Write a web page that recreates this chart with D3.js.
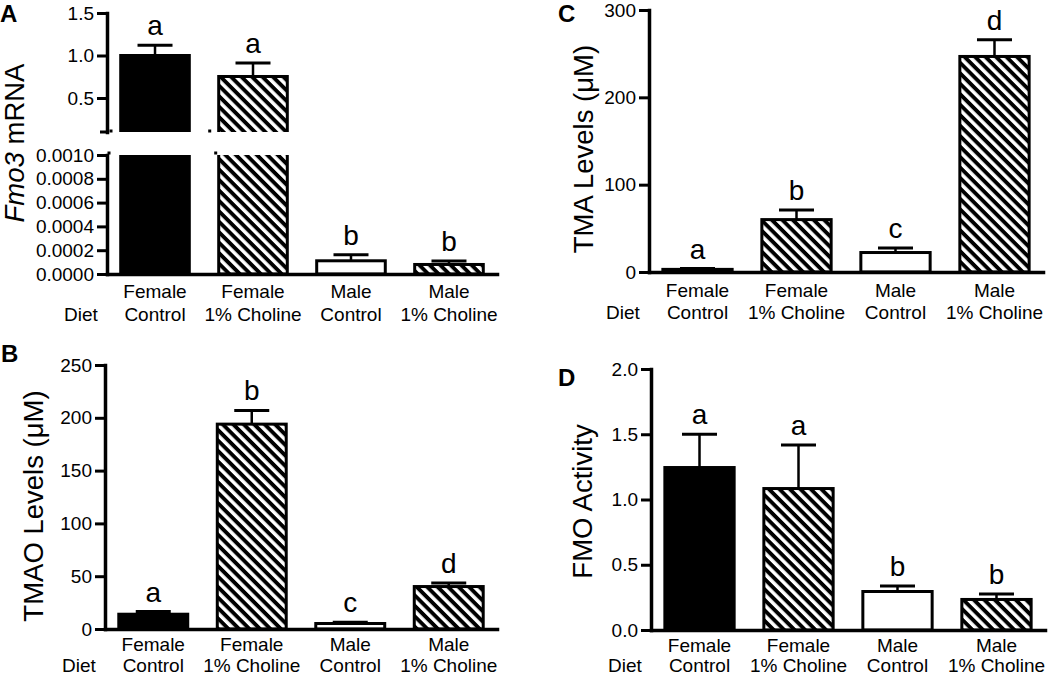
<!DOCTYPE html>
<html>
<head>
<meta charset="utf-8">
<script src="https://cdn.jsdelivr.net/npm/d3@7/dist/d3.min.js"></script>
<style>
  html, body { margin: 0; padding: 0; background: #fff; }
  svg { display: block; }
  text { font-family: "Liberation Sans", Arial, Helvetica, sans-serif; fill: #000; }
</style>
</head>
<body>
<svg id="chart" width="1050" height="677"></svg>
<script>
// ---------------- data ----------------
const categories = [["Female", "Control"], ["Female", "1% Choline"], ["Male", "Control"], ["Male", "1% Choline"]];
const fillTypes = ["solid", "hatch", "open", "hatch"];

const fmo3Mean = [1.0, 0.753, 0.000111, 0.00008];
const fmo3Sem = [0.12, 0.159, 0.000051, 0.00003];
const fmo3Letters = ["a", "a", "b", "b"];
const fmo3TopTicks = [0.5, 1.0, 1.5];
const fmo3BottomTicks = [0, 0.0002, 0.0004, 0.0006, 0.0008, 0.0010];

const tmaoMean = [14, 194, 5.2, 40.2];
const tmaoSem = [2.5, 13, 1.3, 3.3];
const tmaoLetters = ["a", "b", "c", "d"];
const tmaoTicks = [0, 50, 100, 150, 200, 250];

const tmaMean = [3, 60, 22.3, 246.8];
const tmaSem = [1, 11, 5.2, 19];
const tmaLetters = ["a", "b", "c", "d"];
const tmaTicks = [0, 100, 200, 300];

const fmoMean = [1.245, 1.084, 0.295, 0.234];
const fmoSem = [0.255, 0.334, 0.042, 0.042];
const fmoLetters = ["a", "a", "b", "b"];
const fmoTicks = [0, 0.5, 1.0, 1.5, 2.0];

// ---------------- setup ----------------
const svg = d3.select("#chart");
const defs = svg.append("defs");
const pat = defs.append("pattern")
  .attr("id", "hatch")
  .attr("patternUnits", "userSpaceOnUse")
  .attr("width", 7.4).attr("height", 7.4)
  .attr("patternTransform", "rotate(45)");
pat.append("rect").attr("width", 7.4).attr("height", 7.4).attr("fill", "#fff");
pat.append("rect").attr("width", 7.4).attr("height", 3.9).attr("fill", "#000");

const fillOf = t => t === "solid" ? "#000" : (t === "hatch" ? "url(#hatch)" : "#fff");

const TICK_FS = 19, CAT_FS = 19, LET_FS = 28, TITLE_FS = 27.5;
const AXIS_W = 3.5, BAR_W = 3;

function bandScale(x0, x1) {
  return d3.scaleBand().domain(d3.range(categories.length)).range([x0, x1])
    .paddingInner(0.3).paddingOuter(0.14);
}

function drawYAxis(g, scale, ticks, fmt, x) {
  const ax = g.append("g").attr("transform", `translate(${x},0)`)
    .call(d3.axisLeft(scale).tickValues(ticks).tickFormat(fmt).tickSize(10).tickSizeOuter(0).tickPadding(3));
  ax.select(".domain").attr("stroke", "#000").attr("stroke-width", AXIS_W).attr("stroke-linecap", "square");
  ax.selectAll(".tick line").attr("stroke", "#000").attr("stroke-width", 3);
  ax.selectAll(".tick text").style("font-size", TICK_FS + "px")
    .style("font-family", '"Liberation Sans", Arial, sans-serif').attr("fill", "#000");
  return ax;
}

function drawXAxis(g, x, y0) {
  const ax = g.append("g").attr("transform", `translate(0,${y0})`)
    .call(d3.axisBottom(x).tickSize(0).tickSizeOuter(0).tickFormat(""));
  ax.select(".domain").attr("stroke", "#000").attr("stroke-width", AXIS_W).attr("stroke-linecap", "square");
  ax.selectAll(".tick").remove();
}

function drawCategoryLabels(g, x, y0, axisX, d1, d2) {
  categories.forEach((c, i) => {
    const cx = x(i) + x.bandwidth() / 2;
    g.append("text").attr("x", cx).attr("y", y0 + d1).attr("text-anchor", "middle")
      .style("font-size", CAT_FS + "px").text(c[0]);
    g.append("text").attr("x", cx).attr("y", y0 + d2).attr("text-anchor", "middle")
      .style("font-size", CAT_FS + "px").text(c[1]);
  });
  g.append("text").attr("x", axisX - 43).attr("y", y0 + d2)
    .style("font-size", CAT_FS + "px").text("Diet");
}

function drawBars(g, x, y, means, sems, idx, clip) {
  const gg = g.append("g");
  if (clip) gg.attr("clip-path", `url(#${clip})`);
  const capW = 35;
  idx.forEach(i => {
    const bx = x(i), bw = x.bandwidth();
    const top = y(means[i]);
    const base = y.range()[0];
    const eTop = y(means[i] + sems[i]);
    const cx = bx + bw / 2;
    gg.append("line").attr("x1", cx).attr("x2", cx).attr("y1", top).attr("y2", eTop)
      .attr("stroke", "#000").attr("stroke-width", 2.5);
    gg.append("line").attr("x1", cx - capW / 2).attr("x2", cx + capW / 2).attr("y1", eTop).attr("y2", eTop)
      .attr("stroke", "#000").attr("stroke-width", 3);
    gg.append("rect").attr("x", bx).attr("y", Math.min(top, base)).attr("width", bw)
      .attr("height", Math.abs(base - top))
      .attr("fill", fillOf(fillTypes[i])).attr("stroke", "#000").attr("stroke-width", BAR_W);
  });
  return gg;
}

function drawLetters(g, x, yFn, letters, idx) {
  idx.forEach(i => {
    const cx = x(i) + x.bandwidth() / 2;
    g.append("text").attr("x", cx).attr("y", yFn(i) - 10).attr("text-anchor", "middle")
      .style("font-size", LET_FS + "px").text(letters[i]);
  });
}

function panelLetter(txt, px, py) {
  svg.append("text").attr("x", px).attr("y", py).style("font-size", "24px").style("font-weight", "bold").text(txt);
}

function yTitle(g, x, y, build) {
  const t = g.append("text").attr("transform", `translate(${x},${y}) rotate(-90)`)
    .attr("text-anchor", "middle").style("font-size", TITLE_FS + "px");
  build(t);
}

// ---------------- Panel A (broken axis) ----------------
(function () {
  const g = svg.append("g");
  const axisX = 107, xEnd = 497, y0 = 274;
  const x = bandScale(axisX, xEnd);
  const yBot = d3.scaleLinear().domain([0, 0.001]).range([y0, 155]);
  const yTop = d3.scaleLinear().domain([0.1, 1.5]).range([132, 13]);

  defs.append("clipPath").attr("id", "clipATop").append("rect")
    .attr("x", axisX).attr("y", 0).attr("width", xEnd - axisX).attr("height", yTop(0.1));
  defs.append("clipPath").attr("id", "clipABot").append("rect")
    .attr("x", axisX).attr("y", yBot(0.001)).attr("width", xEnd - axisX).attr("height", y0 - yBot(0.001) + 5);

  const big = d3.range(4).filter(i => fmo3Mean[i] > 0.001);

  const yTopExt = yTop.copy().domain([0, 1.5]).range([yTop(0), 13]);
  drawBars(g, x, yTopExt, fmo3Mean, fmo3Sem, big, "clipATop");
  drawBars(g, x, yBot, fmo3Mean, fmo3Sem, d3.range(4), "clipABot");

  drawYAxis(g, yTop, fmo3TopTicks, d3.format(".1f"), axisX);
  g.append("line").attr("x1", axisX - 7).attr("x2", axisX).attr("y1", yTop(0.1)).attr("y2", yTop(0.1))
    .attr("stroke", "#000").attr("stroke-width", 3);
  drawYAxis(g, yBot, fmo3BottomTicks, d3.format(".4f"), axisX);
  drawXAxis(g, x, y0);

  const mk = [[axisX + 4, yTop(0.1) - 1], [x(1) - 9, yTop(0.1) - 1], [axisX + 2, yBot(0.001) - 2], [x(1) - 3, yBot(0.001) - 2]];
  mk.forEach(p => g.append("rect").attr("x", p[0] - 1.5).attr("y", p[1] - 1.5).attr("width", 3).attr("height", 3).attr("fill", "#000"));

  drawLetters(g, x, i => (fmo3Mean[i] > 0.001 ? yTop : yBot)(fmo3Mean[i] + fmo3Sem[i]), fmo3Letters, d3.range(4));
  drawCategoryLabels(g, x, y0, axisX, 24, 47);
  yTitle(g, 24, 143, t => {
    t.append("tspan").style("font-style", "italic").text("Fmo3");
    t.append("tspan").text(" mRNA");
  });
  panelLetter("A", 0, 22);
})();

// ---------------- generic panel ----------------
function simplePanel(opts) {
  const g = svg.append("g");
  const x = bandScale(opts.axisX, opts.xEnd);
  const y = d3.scaleLinear().domain([0, opts.max]).range([opts.y0, opts.yTop]);
  drawBars(g, x, y, opts.mean, opts.sem, d3.range(4), null);
  drawYAxis(g, y, opts.ticks, opts.fmt, opts.axisX);
  drawXAxis(g, x, opts.y0);
  drawLetters(g, x, i => y(opts.mean[i] + opts.sem[i]), opts.letters, d3.range(4));
  drawCategoryLabels(g, x, opts.y0, opts.axisX, opts.d1, opts.d2);
  yTitle(g, opts.titleX, (opts.y0 + opts.yTop) / 2 + opts.titleDy, t => t.text(opts.title));
  panelLetter(opts.letter, opts.lx, opts.ly);
}

simplePanel({ axisX: 105, xEnd: 497, y0: 629, yTop: 365, max: 250, mean: tmaoMean, sem: tmaoSem,
  letters: tmaoLetters, ticks: tmaoTicks, fmt: d3.format("d"), title: "TMAO Levels (μM)",
  titleX: 43, titleDy: 9, letter: "B", lx: 1, ly: 362, d1: 22, d2: 43 });
simplePanel({ axisX: 649, xEnd: 1043, y0: 272, yTop: 10, max: 300, mean: tmaMean, sem: tmaSem,
  letters: tmaLetters, ticks: tmaTicks, fmt: d3.format("d"), title: "TMA Levels (μM)",
  titleX: 593, titleDy: 8, letter: "C", lx: 558, ly: 22, d1: 25, d2: 47 });
simplePanel({ axisX: 651, xEnd: 1045, y0: 630, yTop: 369, max: 2, mean: fmoMean, sem: fmoSem,
  letters: fmoLetters, ticks: fmoTicks, fmt: d3.format(".1f"), title: "FMO Activity",
  titleX: 592, titleDy: 2, letter: "D", lx: 558, ly: 386, d1: 22, d2: 42 });
</script>
</body>
</html>
